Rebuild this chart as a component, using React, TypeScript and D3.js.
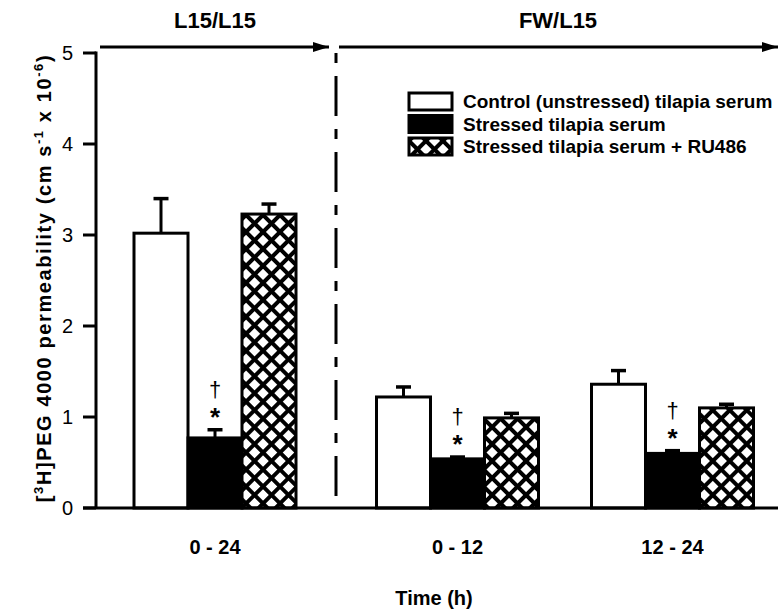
import React from "react";
import * as d3 from "d3";

// time periods (h) and the medium condition each belongs to
const periods = ["0 - 24", "0 - 12", "12 - 24"];
const leftPeriods = ["0 - 24"];
const rightPeriods = ["0 - 12", "12 - 24"];

const seriesNames = [
  "Control (unstressed) tilapia serum",
  "Stressed tilapia serum",
  "Stressed tilapia serum + RU486",
];

// means and SEM per period
const controlMean = [3.02, 1.22, 1.36];
const controlErr = [0.38, 0.11, 0.15];
const stressedMean = [0.77, 0.54, 0.6];
const stressedErr = [0.09, 0.02, 0.03];
const ru486Mean = [3.23, 0.99, 1.1];
const ru486Err = [0.11, 0.05, 0.04];

const yTicks = [0, 1, 2, 3, 4, 5];

const W = 778;
const H = 611;
const FONT = "'Liberation Sans', Arial, Helvetica, sans-serif";

export default function App() {
  const y = d3.scaleLinear().domain([0, 5]).range([508, 53]);
  const xLeft = d3.scaleBand().domain(leftPeriods).range([95, 335]);
  const xRight = d3.scaleBand().domain(rightPeriods).range([350, 780]);
  const groupCenter = (p: string) =>
    leftPeriods.includes(p)
      ? (xLeft(p) as number) + xLeft.bandwidth() / 2
      : (xRight(p) as number) + xRight.bandwidth() / 2;
  const inner = d3.scaleBand().domain(seriesNames).range([-81, 81]).padding(0);

  const means = [controlMean, stressedMean, ru486Mean];
  const errs = [controlErr, stressedErr, ru486Err];
  const fills = ["#fff", "#000", "url(#xhatch)"];

  const bars = periods.flatMap((p, i) =>
    seriesNames.map((s, j) => ({
      p,
      s,
      j,
      mean: means[j][i],
      err: errs[j][i],
      x: groupCenter(p) + (inner(s) as number),
    }))
  );
  const bw = inner.bandwidth();

  const dividerX = 336;

  return (
    <svg
      width={W}
      height={H}
      style={{ position: "absolute", left: 0, top: 0, background: "#fff" }}
      fontFamily={FONT}
    >
      <defs>
        <pattern
          id="xhatch"
          width={12}
          height={12}
          patternUnits="userSpaceOnUse"
          patternTransform="rotate(45)"
        >
          <rect width={12} height={12} fill="#fff" />
          <rect width={12} height={4} fill="#000" />
          <rect width={4} height={12} fill="#000" />
        </pattern>
        <marker
          id="arrow"
          viewBox="0 0 16 10"
          refX={16}
          refY={5}
          markerWidth={16}
          markerHeight={10}
          markerUnits="userSpaceOnUse"
          orient="auto"
        >
          <path d="M0,0 L16,5 L0,10 Z" fill="#000" />
        </marker>
      </defs>

      {/* condition labels and arrows */}
      <text x={groupCenter("0 - 24")} y={28} textAnchor="middle" fontSize={22} fontWeight="bold">
        L15/L15
      </text>
      <text x={558} y={28} textAnchor="middle" fontSize={22} fontWeight="bold">
        FW/L15
      </text>
      <line x1={100} x2={329} y1={47} y2={47} stroke="#000" strokeWidth={3} markerEnd="url(#arrow)" />
      <line x1={339} x2={778} y1={47} y2={47} stroke="#000" strokeWidth={3} markerEnd="url(#arrow)" />
      <line
        x1={dividerX}
        x2={dividerX}
        y1={53}
        y2={y(0)}
        stroke="#000"
        strokeWidth={3}
        strokeDasharray="10,13,40,13"
      />

      {/* bars */}
      {bars.map((b) => (
        <g key={b.p + b.j}>
          <line
            x1={b.x + bw / 2}
            x2={b.x + bw / 2}
            y1={y(b.mean)}
            y2={y(b.mean + b.err)}
            stroke="#000"
            strokeWidth={3}
          />
          <line
            x1={b.x + bw / 2 - 7.5}
            x2={b.x + bw / 2 + 7.5}
            y1={y(b.mean + b.err)}
            y2={y(b.mean + b.err)}
            stroke="#000"
            strokeWidth={3.5}
          />
          <rect
            x={b.x}
            y={y(b.mean)}
            width={bw}
            height={y(0) - y(b.mean)}
            fill={fills[b.j]}
            stroke="#000"
            strokeWidth={3}
          />
        </g>
      ))}

      {/* significance marks on stressed bars */}
      {bars
        .filter((b) => b.j === 1)
        .map((b) => {
          const top = y(b.mean + b.err);
          return (
            <g key={"sig" + b.p} textAnchor="middle" fontWeight="bold">
              <text x={b.x + bw / 2} y={top - 4} fontSize={26}>
                *
              </text>
              <text x={b.x + bw / 2} y={top - 33} fontSize={22} fontWeight="normal">
                †
              </text>
            </g>
          );
        })}

      {/* axes */}
      <line x1={83} x2={W} y1={y(0)} y2={y(0)} stroke="#000" strokeWidth={3} />
      <line x1={96} x2={96} y1={y(5) - 1.5} y2={y(0)} stroke="#000" strokeWidth={3} />
      {yTicks.map((t) => (
        <g key={t}>
          <line x1={83} x2={96} y1={y(t)} y2={y(t)} stroke="#000" strokeWidth={3} />
          <text x={73} y={y(t)} dy="0.36em" textAnchor="end" fontSize={20}>
            {t}
          </text>
        </g>
      ))}
      {periods.map((p) => (
        <text key={p} x={groupCenter(p)} y={554} textAnchor="middle" fontSize={20} fontWeight="bold">
          {p}
        </text>
      ))}
      <text x={434} y={605} textAnchor="middle" fontSize={20} fontWeight="bold">
        Time (h)
      </text>
      <text
        transform="translate(51,278) rotate(-90)"
        textAnchor="middle"
        fontSize={20}
        fontWeight="bold"
        letterSpacing={1.6}
      >
        [<tspan dy={-8} fontSize={13}>3</tspan>
        <tspan dy={8}>H]PEG 4000 permeability (cm s</tspan>
        <tspan dy={-8} fontSize={13}>-1</tspan>
        <tspan dy={8}> x 10</tspan>
        <tspan dy={-8} fontSize={13}>-6</tspan>
        <tspan dy={8}>)</tspan>
      </text>

      {/* legend */}
      {seriesNames.map((s, j) => (
        <g key={s} transform={`translate(409,${93 + j * 22.5})`}>
          <rect width={43} height={17} fill={fills[j]} stroke="#000" strokeWidth={3} />
          <text x={54} y={15} fontSize={19} fontWeight="bold">
            {s}
          </text>
        </g>
      ))}
    </svg>
  );
}
